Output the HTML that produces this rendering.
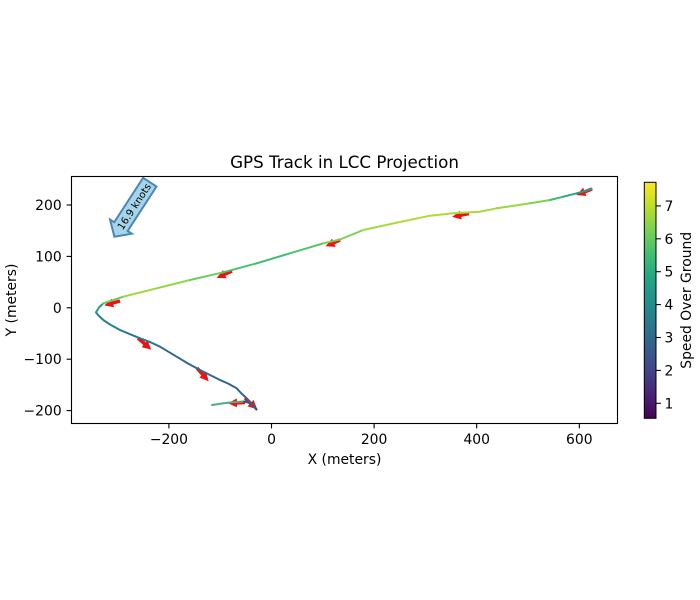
<!DOCTYPE html>
<html>
<head>
<meta charset="utf-8">
<style>
  html,body{margin:0;padding:0;background:#fff;}
  svg{display:block;}
  text{font-family:"DejaVu Sans","Liberation Sans",sans-serif;fill:#000;}
</style>
</head>
<body>
<svg width="700" height="600" viewBox="0 0 700 600" xmlns="http://www.w3.org/2000/svg">
  <defs>
    <linearGradient id="viridis" x1="0" y1="1" x2="0" y2="0">
      <stop offset="0" stop-color="#440154"/>
      <stop offset="0.1" stop-color="#482475"/>
      <stop offset="0.2" stop-color="#414487"/>
      <stop offset="0.3" stop-color="#355f8d"/>
      <stop offset="0.4" stop-color="#2a788e"/>
      <stop offset="0.5" stop-color="#21918c"/>
      <stop offset="0.6" stop-color="#22a884"/>
      <stop offset="0.7" stop-color="#44bf70"/>
      <stop offset="0.8" stop-color="#7ad151"/>
      <stop offset="0.9" stop-color="#bddf26"/>
      <stop offset="1" stop-color="#fde725"/>
    </linearGradient>
    <marker id="ah" markerUnits="userSpaceOnUse" markerWidth="12" markerHeight="12" refX="2" refY="4.5" orient="auto">
      <path d="M0,0 L9,4.5 L0,9 z" fill="#ee1111"/>
    </marker>
  </defs>

  <!-- Title -->
  <text x="344.5" y="168" font-size="16.7" text-anchor="middle">GPS Track in LCC Projection</text>

  <!-- Red quiver arrows (under line) -->
  <g stroke="#ee1111" stroke-width="3.5" fill="none" marker-end="url(#ah)">
    <line x1="120" y1="301" x2="111" y2="303.5"/>
    <line x1="232" y1="271" x2="223" y2="275"/>
    <line x1="340" y1="240" x2="332" y2="243.5"/>
    <line x1="469" y1="213.5" x2="459" y2="215.5"/>
    <line x1="592" y1="189" x2="583" y2="192.5"/>
    <line x1="138" y1="338" x2="146" y2="345"/>
    <line x1="197" y1="368" x2="204" y2="376"/>
    <line x1="245" y1="402.5" x2="235" y2="403"/>
    <line x1="245" y1="398" x2="252" y2="404.5"/>
  </g>

  <!-- Track -->
  <g fill="none" stroke-width="2" stroke-linecap="round" stroke-linejoin="round">
    <polyline stroke="#4fae7d" points="212,405 222,403.5 232,402.3 244,401.5"/>
    <polyline stroke="#3b528b" points="244,401.5 250,403 255,407"/>
    <polyline stroke="#443983" points="255,407 256.5,409.5 255,408"/>
    <polyline stroke="#33638d" points="255,408 250,402 246.7,398.3 241,393 236.7,388.3 228,383.5 220,380"/>
    <polyline stroke="#31688e" points="220,380 200,370 188,363.5 176.7,356.7 160,346.7"/>
    <polyline stroke="#2c728e" points="160,346.7 150,342 140,338.3 120,330"/>
    <polyline stroke="#26828e" points="120,330 110,324.5 103.3,320 98,315 96,312.3"/>
    <polyline stroke="#21a08a" points="96,312.3 99,307.5 103.3,303.3"/>
    <polyline stroke="#6ccd5a" points="103.3,303.3 123.3,296.7"/>
    <polyline stroke="#9fd83c" points="123.3,296.7 156.7,288.3"/>
    <polyline stroke="#8fd744" points="156.7,288.3 190,280"/>
    <polyline stroke="#6ccd5a" points="190,280 223.3,272.3"/>
    <polyline stroke="#4ac16d" points="223.3,272.3 256.7,263.3"/>
    <polyline stroke="#3dbc74" points="256.7,263.3 290,253.3"/>
    <polyline stroke="#52c569" points="290,253.3 323.3,243.3"/>
    <polyline stroke="#7ad151" points="323.3,243.3 340,239.5 363.3,230"/>
    <polyline stroke="#a5d93a" points="363.3,230 396.7,222.7"/>
    <polyline stroke="#b2da33" points="396.7,222.7 430,215.7 453.3,213.3"/>
    <polyline stroke="#aad836" points="453.3,213.3 480,211.7 496.7,208.3"/>
    <polyline stroke="#98d73e" points="496.7,208.3 530,203.3"/>
    <polyline stroke="#7ad151" points="530,203.3 550,200"/>
    <polyline stroke="#3dbc74" points="550,200 563.3,196.7"/>
    <polyline stroke="#22a884" points="563.3,196.7 576.7,193.3"/>
    <polyline stroke="#2a9d8a" points="576.7,193.3 591.7,189"/>
  </g>
  <!-- subtle dark edge on line -->

  <!-- Big arrow annotation -->
  <g transform="translate(134,206.5) rotate(-57)">
    <polygon points="29,-8 29,8 -24,8 -24,13 -36,0 -24,-13 -24,-8" fill="#a6d5ea" stroke="#4a86b8" stroke-width="2" stroke-linejoin="miter"/>
    <text x="0" y="3.6" font-size="10" text-anchor="middle">16.9 knots</text>
  </g>

  <!-- Axes frame -->
  <rect x="71.5" y="176.5" width="546" height="247" fill="none" stroke="#000" stroke-width="1.1"/>

  <!-- X ticks -->
  <g stroke="#000" stroke-width="1.1">
    <line x1="168.9" y1="423.5" x2="168.9" y2="428.4"/>
    <line x1="271.5" y1="423.5" x2="271.5" y2="428.4"/>
    <line x1="374.1" y1="423.5" x2="374.1" y2="428.4"/>
    <line x1="476.7" y1="423.5" x2="476.7" y2="428.4"/>
    <line x1="579.3" y1="423.5" x2="579.3" y2="428.4"/>
  </g>
  <g font-size="13.9" text-anchor="middle">
    <text x="168.9" y="444">−200</text>
    <text x="271.5" y="444">0</text>
    <text x="374.1" y="444">200</text>
    <text x="476.7" y="444">400</text>
    <text x="579.3" y="444">600</text>
  </g>
  <text x="344.5" y="464" font-size="13.9" text-anchor="middle">X (meters)</text>

  <!-- Y ticks -->
  <g stroke="#000" stroke-width="1.1">
    <line x1="71.5" y1="205" x2="66.6" y2="205"/>
    <line x1="71.5" y1="256.4" x2="66.6" y2="256.4"/>
    <line x1="71.5" y1="307.8" x2="66.6" y2="307.8"/>
    <line x1="71.5" y1="359.2" x2="66.6" y2="359.2"/>
    <line x1="71.5" y1="410.6" x2="66.6" y2="410.6"/>
  </g>
  <g font-size="13.9" text-anchor="end">
    <text x="61.7" y="210">200</text>
    <text x="61.7" y="261.4">100</text>
    <text x="61.7" y="312.8">0</text>
    <text x="61.7" y="364.2">−100</text>
    <text x="61.7" y="415.6">−200</text>
  </g>
  <text transform="translate(16,300) rotate(-90)" font-size="13.9" text-anchor="middle">Y (meters)</text>

  <!-- Colorbar -->
  <rect x="644.3" y="182.3" width="11.7" height="236" fill="url(#viridis)"/>
  <rect x="644.3" y="182.3" width="11.7" height="236" fill="none" stroke="#000" stroke-width="1"/>
  <g stroke="#000" stroke-width="1.1">
    <line x1="656" y1="403.3" x2="660.9" y2="403.3"/>
    <line x1="656" y1="370.4" x2="660.9" y2="370.4"/>
    <line x1="656" y1="337.5" x2="660.9" y2="337.5"/>
    <line x1="656" y1="304.6" x2="660.9" y2="304.6"/>
    <line x1="656" y1="271.7" x2="660.9" y2="271.7"/>
    <line x1="656" y1="238.8" x2="660.9" y2="238.8"/>
    <line x1="656" y1="205.9" x2="660.9" y2="205.9"/>
  </g>
  <g font-size="13.9">
    <text x="664.5" y="408.3">1</text>
    <text x="664.5" y="375.4">2</text>
    <text x="664.5" y="342.5">3</text>
    <text x="664.5" y="309.6">4</text>
    <text x="664.5" y="276.7">5</text>
    <text x="664.5" y="243.8">6</text>
    <text x="664.5" y="210.9">7</text>
  </g>
  <text transform="translate(691,300.3) rotate(-90)" font-size="13.9" text-anchor="middle">Speed Over Ground</text>
</svg>
</body>
</html>
